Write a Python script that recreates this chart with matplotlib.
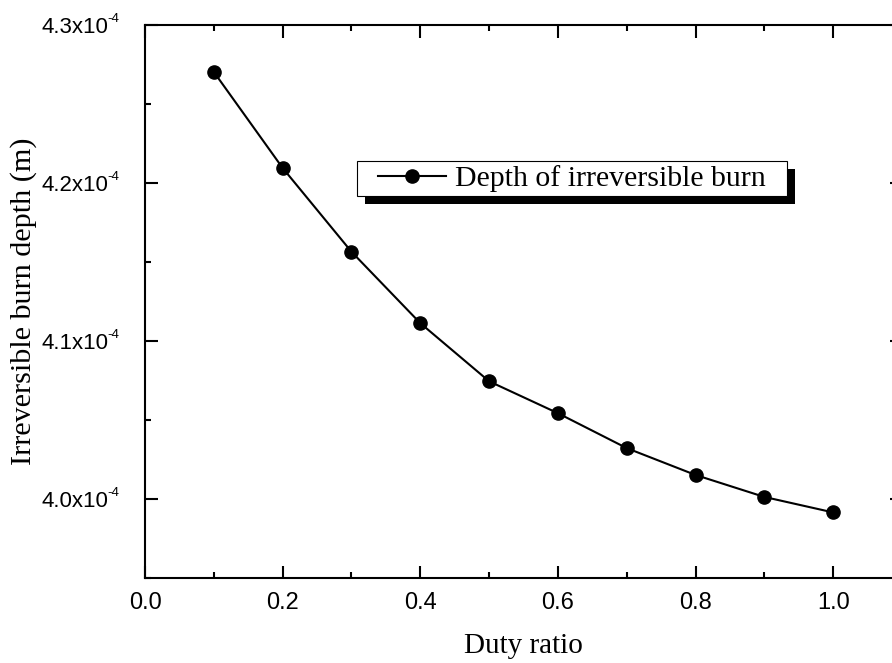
import matplotlib
matplotlib.use('Agg')
import matplotlib.pyplot as plt
import matplotlib.patches as mpatches
from matplotlib.ticker import MultipleLocator, FuncFormatter
from matplotlib.transforms import IdentityTransform

plt.rcParams['font.family'] = 'Liberation Serif'

# data
duty_ratio = [0.1, 0.2, 0.3, 0.4, 0.5, 0.6, 0.7, 0.8, 0.9, 1.0]
burn_depth = [4.2703e-4, 4.2095e-4, 4.1565e-4, 4.1113e-4, 4.0745e-4,
              4.0543e-4, 4.0322e-4, 4.0152e-4, 4.0013e-4, 3.9915e-4]
x_ticks = [0.0, 0.2, 0.4, 0.6, 0.8, 1.0]
y_ticks = [4.0e-4, 4.1e-4, 4.2e-4, 4.3e-4]
y_exp = '-4'
series_label = 'Depth of irreversible burn'

W, H = 892, 663
fig = plt.figure(figsize=(W/100, H/100), dpi=100)
# right spine sits just outside the picture, like the cropped original
ax = fig.add_axes([145/W, 1-578/H, 757/W, 553/H])

ax.plot(duty_ratio, burn_depth, color='black', lw=1.5, marker='o', ms=9.5,
        label=series_label, zorder=3)

ax.set_xlim(0, 1.1)
ax.set_ylim(3.95e-4, 4.3e-4)
ax.set_xticks(x_ticks)
ax.set_yticks(y_ticks)
ax.xaxis.set_minor_locator(MultipleLocator(0.1))
ax.yaxis.set_minor_locator(MultipleLocator(0.05e-4))
ax.xaxis.set_major_formatter(FuncFormatter(lambda v, p: f'{v:.1f}'))
ax.yaxis.set_major_formatter(FuncFormatter(lambda v, p: f'{v*1e4:.1f}x10'))

for sp in ax.spines.values():
    sp.set_linewidth(1.5)
ax.tick_params(which='both', direction='in', top=True, right=True, width=1.5)
ax.tick_params(which='major', length=9)
ax.tick_params(which='minor', length=4.5)
ax.tick_params(axis='x', which='major', pad=10)
ax.tick_params(axis='y', which='major', pad=26.5)
for lab in ax.get_xticklabels() + ax.get_yticklabels():
    lab.set_family('Liberation Sans')
for lab in ax.get_xticklabels():
    lab.set_fontsize(17)
for lab in ax.get_yticklabels():
    lab.set_fontsize(16)

# small exponent next to each y tick label ("x10" + superscript -4)
for yv in y_ticks:
    ax.annotate(y_exp, xy=(0, yv), xycoords=('axes fraction', 'data'),
                xytext=(-18.8, 4.5), textcoords='offset points', ha='right',
                va='center', fontsize=9.5, family='Liberation Sans',
                annotation_clip=False)

ax.set_xlabel('Duty ratio', fontsize=21, labelpad=13.5)
ax.set_ylabel('Irreversible burn depth (m)', fontsize=21.7, labelpad=3)

leg = ax.legend(loc='center', bbox_to_anchor=(572/W, 1-178.5/H),
                bbox_transform=fig.transFigure, frameon=False, fontsize=21.5,
                handlelength=2.3, handletextpad=0.3, borderpad=0.15)
leg.set_zorder(6)

# framed box with a hard black drop shadow behind the legend
fig.canvas.draw()
bb = leg.get_window_extent()
padx = 16
shadow = mpatches.Rectangle((bb.x0 - padx + 8, bb.y0 - 8), bb.width + 2*padx, bb.height,
                            transform=IdentityTransform(), facecolor='black',
                            edgecolor='none', zorder=4, clip_on=False)
box = mpatches.Rectangle((bb.x0 - padx, bb.y0), bb.width + 2*padx, bb.height,
                         transform=IdentityTransform(), facecolor='white',
                         edgecolor='black', lw=0.8, zorder=5, clip_on=False)
ax.add_artist(shadow)
ax.add_artist(box)

plt.savefig('out.png', dpi=100)
